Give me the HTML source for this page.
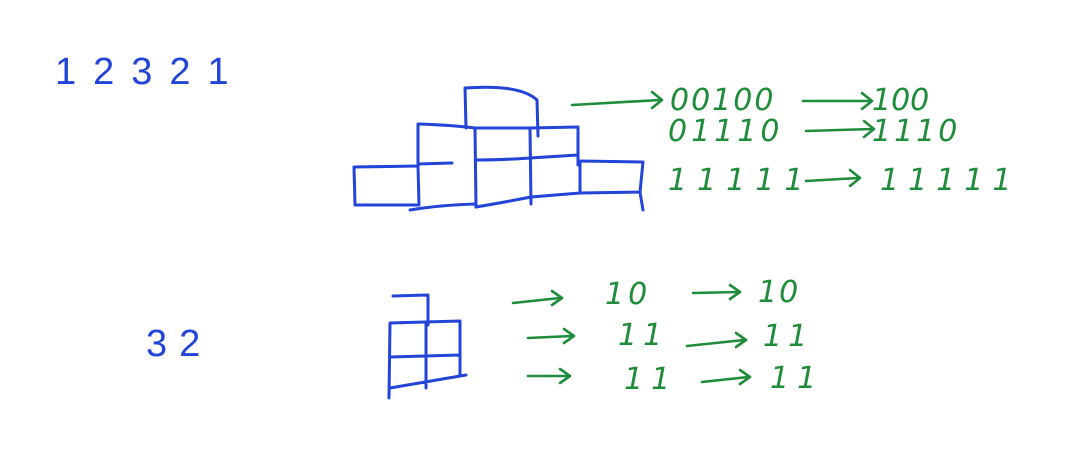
<!DOCTYPE html>
<html><head><meta charset="utf-8"><style>
html,body{margin:0;padding:0;background:#fff;width:1072px;height:476px;overflow:hidden}
svg{display:block}
.b{fill:none;stroke:#2244d8;stroke-width:3;stroke-linecap:round;stroke-linejoin:round}
.g{fill:none;stroke:#1e8c3a;stroke-width:2.6;stroke-linecap:round;stroke-linejoin:round}
.bt{fill:#2244d8;font-family:"Liberation Sans",sans-serif;font-size:38px;font-weight:300}
.gt{fill:#1e8c3a;font-family:"DejaVu Sans",sans-serif;font-size:30px;font-style:italic;font-weight:200}
</style></head><body>
<svg width="1072" height="476">
<text class="bt" x="55" y="84" letter-spacing="17">12321</text>
<g>
<path class="b" d="M466 128 L465 88 Q520 84 537 100 L538 136"/>
<path class="b" d="M418 166 L418 124 Q450 125 475 128 L530 128 L578 127 L578 165"/>
<path class="b" d="M475 128 L476 207 M530 128 L531 204"/>
<path class="b" d="M418 164 L452 163 M476 160 Q500 160 530 158 L578 155"/>
<path class="b" d="M355 205 L354 167 L418 166 L419 205 L355 205"/>
<path class="b" d="M410 210 Q440 205 476 204 M476 207 Q500 203 531 197 L580 193 L640 192 L643 210 M640 192 L643 162 L580 161 L580 193"/>
</g>
<g>
<path class="b" d="M393 296 L428 295 L428 325 M389 398 L390 323 L460 321 L460 376 M390 357 L460 355 M426 323 L426 388 M390 388 L466 375"/>
</g>
<g>
<path class="g" d="M572 105 L660 100 M652 92 L662 100 L652 108"/>
<path class="g" d="M803 101 L870 101 M862 93 L872 101 L862 109"/>
<path class="g" d="M806 131 L872 129 M864 121 L874 129 L864 137"/>
<path class="g" d="M806 181 L858 178 M850 170 L860 178 L850 186"/>
<path class="g" d="M513 303 L560 298 M552 291 L562 298 L552 305"/>
<path class="g" d="M693 293 L738 292 M730 285 L740 292 L730 299"/>
<path class="g" d="M528 338 L572 336 M564 329 L574 336 L564 343"/>
<path class="g" d="M687 346 L744 340 M736 333 L746 340 L736 347"/>
<path class="g" d="M528 376 L568 376 M560 369 L570 376 L560 383"/>
<path class="g" d="M702 382 L748 377 M740 370 L750 377 L740 384"/>
</g>
<g>
<text class="gt" x="670" y="110" letter-spacing="2">00100</text>
<text class="gt" x="872" y="110" letter-spacing="0">100</text>
<text class="gt" x="668" y="141" letter-spacing="4">01110</text>
<text class="gt" x="872" y="141" letter-spacing="3">1110</text>
<text class="gt" x="668" y="190" letter-spacing="10">11111</text>
<text class="gt" x="880" y="190" letter-spacing="9">11111</text>
<text class="gt" x="605" y="304" letter-spacing="4">10</text>
<text class="gt" x="758" y="302" letter-spacing="2">10</text>
<text class="gt" x="618" y="345" letter-spacing="6">11</text>
<text class="gt" x="763" y="346" letter-spacing="6">11</text>
<text class="gt" x="624" y="389" letter-spacing="8">11</text>
<text class="gt" x="770" y="388" letter-spacing="8">11</text>
</g>
<text class="bt" x="146" y="356" letter-spacing="12">32</text>
</svg>
</body></html>
